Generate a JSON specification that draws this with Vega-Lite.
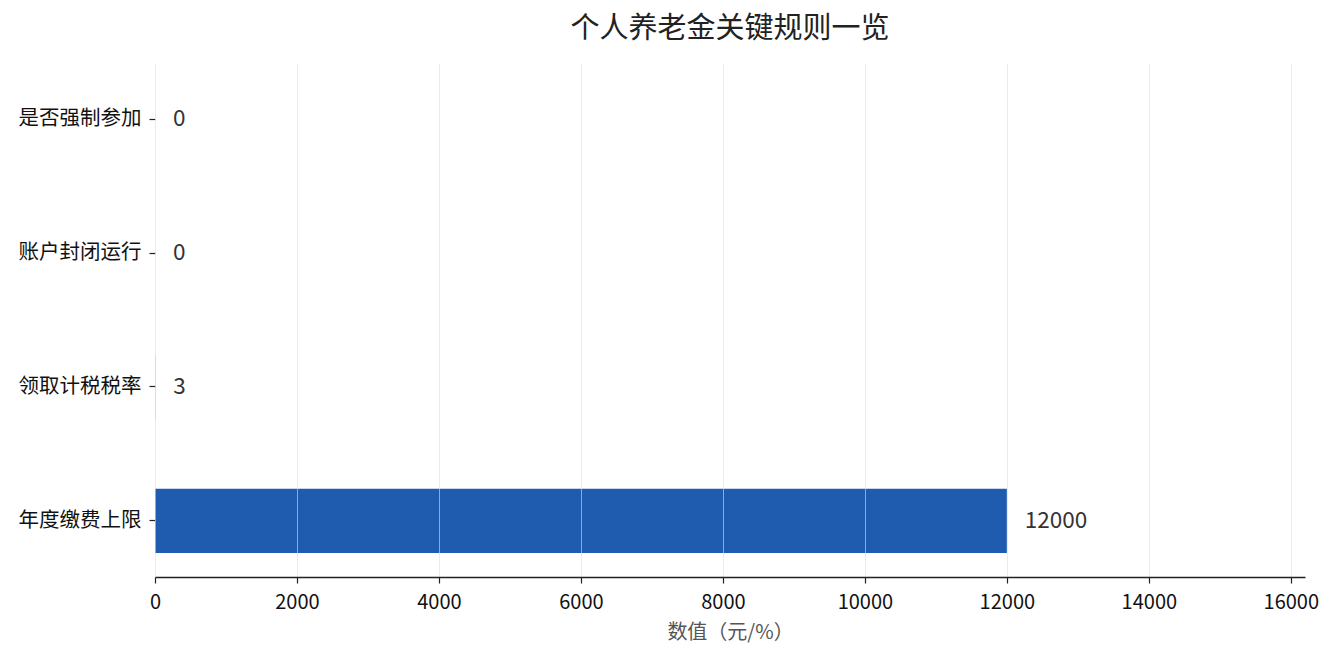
{
  "$schema": "https://vega.github.io/schema/vega-lite/v6.json",
  "autosize": {"type": "none"},
  "width": 1150,
  "height": 514,
  "padding": {"left": 155, "top": 63, "right": 28, "bottom": 83},
  "background": "white",
  "config": {
    "font": "Noto Sans CJK SC",
    "view": {"stroke": null}
  },
  "title": {
    "text": "个人养老金关键规则一览",
    "fontSize": 29,
    "fontWeight": "normal",
    "color": "#222222",
    "anchor": "middle",
    "offset": 19
  },
  "data": {
    "values": [
      {"rule": "是否强制参加", "value": 0, "label": "0"},
      {"rule": "账户封闭运行", "value": 0, "label": "0"},
      {"rule": "领取计税税率", "value": 3, "label": "3"},
      {"rule": "年度缴费上限", "value": 12000, "label": "12000"}
    ]
  },
  "encoding": {
    "y": {
      "field": "rule",
      "type": "nominal",
      "sort": null,
      "scale": {"paddingInner": 0.52, "paddingOuter": 0.18},
      "axis": {
        "title": null,
        "domain": false,
        "ticks": true,
        "tickSize": 6,
        "tickColor": "#222222",
        "tickWidth": 1.2,
        "labelFontSize": 20.5,
        "labelColor": "#111111",
        "labelPadding": 8
      }
    },
    "x": {
      "field": "value",
      "type": "quantitative",
      "scale": {"domain": [0, 16200], "nice": false, "zero": true},
      "axis": {
        "title": "数值（元/%）",
        "titleFontSize": 20,
        "titleFontWeight": "normal",
        "titleColor": "#555555",
        "titlePadding": 10,
        "values": [0, 2000, 4000, 6000, 8000, 10000, 12000, 14000, 16000],
        "format": "d",
        "labelFontSize": 20,
        "labelColor": "#111111",
        "labelPadding": 9,
        "labelFlush": false,
        "domainColor": "#222222",
        "domainWidth": 1.5,
        "tickColor": "#222222",
        "tickWidth": 1.2,
        "tickSize": 6,
        "grid": true,
        "gridColor": "#dddddd",
        "gridOpacity": 0.6,
        "gridWidth": 1,
        "zindex": 1
      }
    }
  },
  "layer": [
    {
      "mark": {"type": "bar", "color": "#1f5cb0"}
    },
    {
      "mark": {"type": "text", "align": "left", "baseline": "middle", "dx": 18, "fontSize": 22.5, "color": "#333333"},
      "encoding": {"text": {"field": "label"}}
    }
  ]
}
